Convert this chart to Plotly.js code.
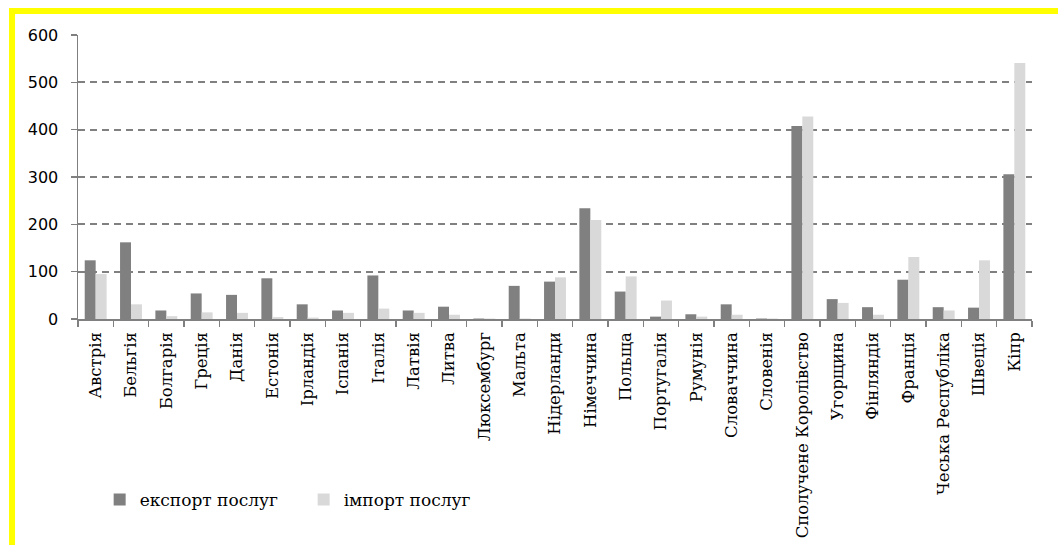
<!DOCTYPE html>
<html>
<head>
<meta charset="utf-8">
<script src="https://cdn.plot.ly/plotly-3.0.1.min.js"></script>
<style>
html,body{margin:0;padding:0;background:#fff;}
#chart{width:1058px;height:545px;}
</style>
</head>
<body>
<div id="chart"></div>
<script>
const countries = ["Австрія","Бельгія","Болгарія","Греція","Данія","Естонія","Ірландія","Іспанія","Італія","Латвія","Литва","Люксембург","Мальта","Нідерланди","Німеччина","Польща","Португалія","Румунія","Словаччина","Словенія","Сполучене Королівство","Угорщина","Фінляндія","Франція","Чеська Республіка","Швеція","Кіпр"];
const exportServices = [124,162,18,54,51,86,31,18,92,18,26,1,70,79,234,58,5,10,31,1,408,42,25,83,25,24,306];
const importServices = [95,31,6,14,13,4,3,13,22,13,9,1,1,88,209,90,39,5,9,1,428,34,9,131,18,124,541];
const seriesNames = ["експорт послуг","імпорт послуг"];
const yTicks = [0,100,200,300,400,500,600];

const data = [
  {type:"bar", name:seriesNames[0], x:countries, y:exportServices, marker:{color:"#808080"}},
  {type:"bar", name:seriesNames[1], x:countries, y:importServices, marker:{color:"#d9d9d9"}}
];

const layout = {
  width:1058, height:545,
  margin:{l:78, r:26, t:35, b:226, pad:0},
  paper_bgcolor:"#ffffff", plot_bgcolor:"#ffffff",
  barmode:"group", bargap:0.38, bargroupgap:0,
  showlegend:true,
  legend:{orientation:"h", x:0.0227, xanchor:"left", y:-0.574, yanchor:"top",
          font:{family:"DejaVu Serif", size:17, color:"#000"},
          entrywidth:159, entrywidthmode:"pixels", itemwidth:30},
  xaxis:{
    type:"category", tickangle:-90, tickson:"boundaries",
    ticks:"outside", ticklen:6, tickcolor:"#808080", tickwidth:1.5,
    showline:true, linecolor:"#808080", linewidth:1.5,
    showgrid:false, zeroline:false, ticklabelstandoff:5,
    tickfont:{family:"DejaVu Serif", size:16.5, color:"#000"}
  },
  yaxis:{
    range:[0,600], tickvals:yTicks, ticktext:yTicks.map(String),
    ticks:"outside", ticklen:6, tickcolor:"#808080", tickwidth:1.5,
    showline:true, linecolor:"#808080", linewidth:1.5,
    showgrid:true, gridcolor:"#808080", gridwidth:2, griddash:"7px,5px",
    zeroline:false, ticklabelstandoff:9,
    tickfont:{family:"DejaVu Sans", size:16, color:"#000"}
  },
  shapes:[
    {type:"rect", xref:"paper", yref:"paper", x0:-0.0723, x1:1.03, y0:1.0739, y1:1.0951,
     fillcolor:"#ffff00", line:{width:0}, layer:"below"},
    {type:"rect", xref:"paper", yref:"paper", x0:-0.0723, x1:-0.066, y0:-0.81, y1:1.0951,
     fillcolor:"#ffff00", line:{width:0}, layer:"below"}
  ]
};

Plotly.newPlot("chart", data, layout, {displayModeBar:false, staticPlot:true});
</script>
</body>
</html>
